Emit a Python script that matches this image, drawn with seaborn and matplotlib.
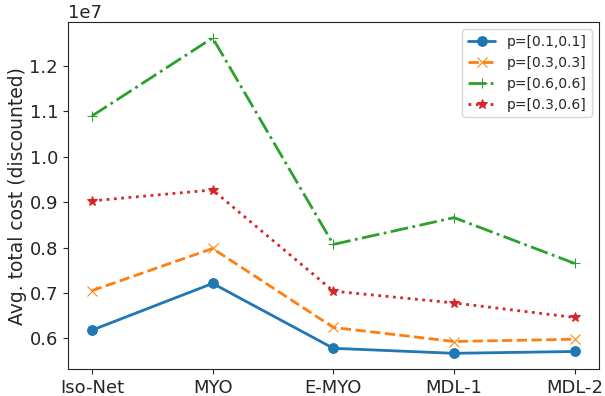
import matplotlib
matplotlib.use("Agg")
import matplotlib.pyplot as plt
import seaborn as sns
import pandas as pd

sns.set_style("ticks")
plt.rcParams['font.family'] = ['DejaVu Sans']

categories = ["Iso-Net", "MYO", "E-MYO", "MDL-1", "MDL-2"]
p_01_01 = [6.18e6, 7.21e6, 5.78e6, 5.67e6, 5.71e6]
p_03_03 = [7.05e6, 7.98e6, 6.24e6, 5.93e6, 5.98e6]
p_06_06 = [10.90e6, 12.62e6, 8.07e6, 8.66e6, 7.65e6]
p_03_06 = [9.03e6, 9.27e6, 7.04e6, 6.78e6, 6.46e6]

series = [
    ("p=[0.1,0.1]", p_01_01, "#1f77b4", "-", "o"),
    ("p=[0.3,0.3]", p_03_03, "#ff7f0e", "--", "x"),
    ("p=[0.6,0.6]", p_06_06, "#2ca02c", "-.", "+"),
    ("p=[0.3,0.6]", p_03_06, "#d62728", ":", "*"),
]

fig = plt.figure(figsize=(6.05, 3.96), dpi=100)
ax = fig.add_axes([0.112, 0.068, 0.878, 0.876])
x = list(range(len(categories)))
for label, vals, color, ls, mk in series:
    df = pd.DataFrame({"x": x, "y": vals})
    sns.lineplot(data=df, x="x", y="y", ax=ax, color=color, linestyle=ls,
                 marker=mk, markersize=7, linewidth=2, label=label,
                 markeredgecolor=color)

ax.set_xticks(x)
ax.set_xticklabels(categories, fontsize=13)
ax.tick_params(axis='y', labelsize=13)
ax.yaxis.get_offset_text().set_fontsize(13)
ax.set_xlabel("")
ax.set_ylabel("Avg. total cost (discounted)", fontsize=13.5, labelpad=2)
ax.legend(loc="upper right", fontsize=10)
fig.savefig("out.png", dpi=100)
